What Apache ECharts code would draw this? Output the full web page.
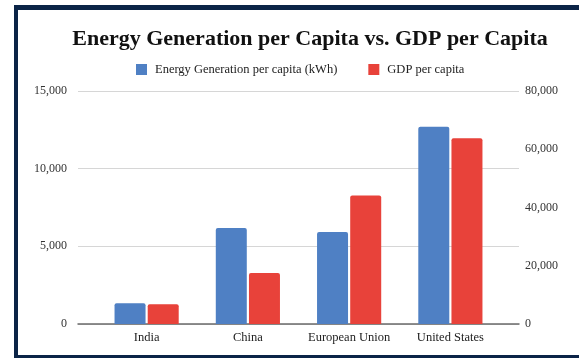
<!DOCTYPE html>
<html>
<head>
<meta charset="utf-8">
<script src="https://cdn.jsdelivr.net/npm/echarts@6/dist/echarts.min.js"></script>
<style>
  html, body { margin: 0; padding: 0; background: #fff; }
  #chart { width: 579px; height: 358px; }
</style>
</head>
<body>
<div id="chart"></div>
<script>
// Regions compared
const categories = ['India', 'China', 'European Union', 'United States'];
// Annual electricity generation per person, kWh
const energyPerCapita = [1330, 6180, 5920, 12700];
// GDP per person, USD
const gdpPerCapita = [6770, 17500, 44100, 63800];
// Axis ranges
const energyAxis = { min: 0, max: 15000, interval: 5000 };
const gdpAxis = { min: 0, max: 80000, interval: 20000 };

const serif = '"Liberation Serif", "DejaVu Serif", serif';
const withCommas = v => String(v).replace(/\B(?=(\d{3})+(?!\d))/g, ',');
const frame = '#0b2447';

const chart = echarts.init(document.getElementById('chart'), null, { renderer: 'canvas' });

chart.setOption({
  animation: false,
  backgroundColor: '#ffffff',
  title: {
    text: 'Energy Generation per Capita vs. GDP per Capita',
    left: 305,
    textAlign: 'center',
    top: 23,
    textStyle: { fontFamily: serif, fontWeight: 'bold', fontSize: 22, color: '#111' }
  },
  legend: {
    left: 131,
    top: 58,
    icon: 'rect',
    itemWidth: 11,
    itemHeight: 11,
    itemGap: 31,
    textStyle: { fontFamily: serif, fontSize: 12.5, color: '#222', padding: [0, 0, 0, 3] },
    data: ['Energy Generation per capita (kWh)', 'GDP per capita']
  },
  grid: [
    // frame for gridlines and both value axes
    { left: 78, right: 60, top: 91, bottom: 34 },
    // inner area holding the bars
    { left: 96, right: 78, top: 91, bottom: 34 }
  ],
  xAxis: [
    {
      gridIndex: 0, type: 'category', data: categories,
      axisLine: { show: true, lineStyle: { color: '#6b6b6b', width: 1.5 } },
      axisTick: { show: false }, axisLabel: { show: false }, splitLine: { show: false }
    },
    {
      gridIndex: 1, type: 'category', data: categories,
      axisLine: { show: false }, axisTick: { show: false },
      axisLabel: { interval: 0, margin: 7, fontFamily: serif, fontSize: 12.5, color: '#222' }
    }
  ],
  yAxis: [
    {
      gridIndex: 0, type: 'value', position: 'left', ...energyAxis,
      axisLine: { show: false }, axisTick: { show: false },
      axisLabel: { margin: 11, fontFamily: serif, fontSize: 12, color: '#333', formatter: withCommas },
      splitLine: { show: true, lineStyle: { color: '#d6d6d6', width: 1 } }
    },
    {
      gridIndex: 0, type: 'value', position: 'right', ...gdpAxis,
      axisLine: { show: false }, axisTick: { show: false },
      axisLabel: { margin: 6, fontFamily: serif, fontSize: 12, color: '#333', formatter: withCommas },
      splitLine: { show: false }
    },
    { gridIndex: 1, type: 'value', show: false, ...energyAxis, splitLine: { show: false } },
    { gridIndex: 1, type: 'value', show: false, ...gdpAxis, splitLine: { show: false } }
  ],
  series: [
    {
      name: 'Energy Generation per capita (kWh)',
      type: 'bar',
      xAxisIndex: 1, yAxisIndex: 2,
      data: energyPerCapita,
      barWidth: 31,
      barGap: '7%',
      itemStyle: { color: '#4f80c4', borderRadius: [2, 2, 0, 0] }
    },
    {
      name: 'GDP per capita',
      type: 'bar',
      xAxisIndex: 1, yAxisIndex: 3,
      data: gdpPerCapita,
      barWidth: 31,
      barGap: '7%',
      itemStyle: { color: '#e8423a', borderRadius: [2, 2, 0, 0] }
    }
  ],
  graphic: [
    { type: 'rect', shape: { x: 14, y: 5, width: 565, height: 5 }, style: { fill: frame } },
    { type: 'rect', shape: { x: 14, y: 5, width: 4, height: 353 }, style: { fill: frame } },
    { type: 'rect', shape: { x: 14, y: 355, width: 565, height: 3 }, style: { fill: frame } }
  ]
});
</script>
</body>
</html>
